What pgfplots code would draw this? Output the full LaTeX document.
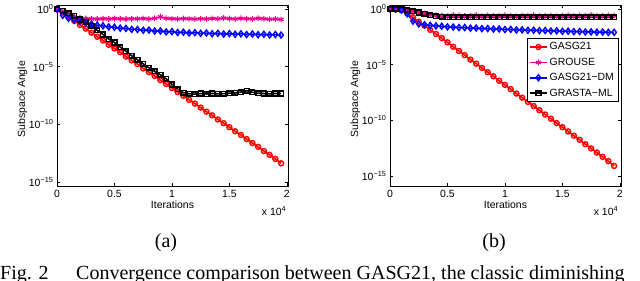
\documentclass[border=0pt]{standalone}
\usepackage{fontspec}
\setmainfont{Liberation Serif}
\newfontfamily\arial{Liberation Sans}
\usepackage{pgfplots}
\pgfplotsset{compat=1.18}
\pgfplotsset{
  matstyle/.style={
    scale only axis, width=231bp, height=181bp,
    xmin=0, xmax=20100,
    ytick={1,1e-5,1e-10,1e-15},
    yticklabels={10\textsuperscript{0},10\textsuperscript{−5},10\textsuperscript{−10},10\textsuperscript{−15}},
    yminorticks=false,
    xtick={0,5000,10000,15000,20000},
    xticklabels={0,0.5,1,1.5,2},
    scaled x ticks=false,
    tick align=inside, major tick length=3bp,
    axis line style={line width=0.6bp},
    every tick/.style={line width=0.6bp, black},
    tick label style={font=\arial\fontsize{10.5}{12}\selectfont},
    label style={font=\arial\fontsize{10.5}{12}\selectfont},
    xticklabel style={anchor=center, yshift=-7.5bp},
    xlabel={Iterations},
    ylabel={Subspace Angle},
    xlabel style={at={(axis description cs:0.5,-0.105)}, anchor=center},
    ylabel style={at={(axis description cs:-0.15,0.48)}, anchor=center},
    clip=false,
  },
  redp/.style={color=red, line width=1.6bp, mark=o, mark size=2.5bp, mark options={line width=1.4bp}},
  magp/.style={color=magenta, line width=1.5bp, mark=asterisk, mark size=2.9bp, mark options={line width=1.1bp}},
  blup/.style={color=blue, line width=1.5bp, mark=diamond, mark size=3bp, mark options={line width=1.4bp}},
  blkp/.style={color=black, line width=1.6bp, mark=square, mark size=2.3bp, mark options={line width=1.6bp}},
}
\begin{document}
\begin{tikzpicture}
% ---------------- (a) ----------------
\begin{axis}[ymode=log, matstyle, at={(57bp,-186bp)}, anchor=south west, ymin=4.47e-16, ymax=2.24]
\addplot[redp] coordinates {
(0,1) (500,4.786e-1) (1000,1.995e-1) (1500,9.550e-2) (2000,4.169e-2) (2500,1.995e-2)
(3000,8.913e-3) (3500,3.981e-3) (4000,1.905e-3) (4500,7.943e-4) (5000,3.802e-4)
(5500,1.778e-4) (6000,7.586e-5) (6500,3.548e-5) (7000,1.660e-5) (7500,7.079e-6)
(8000,3.388e-6) (8500,1.585e-6) (9000,6.761e-7) (9500,3.162e-7) (10000,1.413e-7)
(10500,6.310e-8) (11000,3.020e-8) (11500,1.318e-8) (12000,6.310e-9) (12500,2.818e-9)
(13000,1.259e-9) (13500,6.026e-10) (14000,2.630e-10) (14500,1.259e-10) (15000,5.623e-11)
(15500,2.512e-11) (16000,1.202e-11) (16500,5.248e-12) (17000,2.399e-12) (17500,1.122e-12)
(18000,4.786e-13) (18500,2.239e-13) (19000,1.0e-13) (19500,4.169e-14)};
\addplot[magp] coordinates {
(0,1) (500,4.467e-1) (1000,2.818e-1) (1500,1.995e-1) (2000,1.660e-1) (2500,1.479e-1)
(3000,1.413e-1) (3500,1.349e-1) (4000,1.445e-1) (4500,1.380e-1) (5000,1.479e-1)
(5500,1.413e-1) (6000,1.349e-1) (6500,1.445e-1) (7000,1.413e-1) (7500,1.514e-1)
(8000,1.380e-1) (8500,1.585e-1) (9000,2.089e-1) (9500,1.585e-1) (10000,1.445e-1)
(10500,1.380e-1) (11000,1.479e-1) (11500,1.413e-1) (12000,1.349e-1) (12500,1.445e-1)
(13000,1.380e-1) (13500,1.514e-1) (14000,1.413e-1) (14500,1.660e-1) (15000,1.479e-1)
(15500,1.380e-1) (16000,1.549e-1) (16500,1.445e-1) (17000,1.380e-1) (17500,1.585e-1)
(18000,1.413e-1) (18500,1.318e-1) (19000,1.380e-1) (19500,1.259e-1)};
\addplot[blup] coordinates {
(0,1) (500,2.818e-1) (1000,1.585e-1) (1500,1.072e-1) (2000,8.318e-2) (2500,6.026e-2)
(3000,5.012e-2) (3500,3.981e-2) (4000,3.467e-2) (4500,2.818e-2) (5000,2.630e-2)
(5500,2.188e-2) (6000,2.089e-2) (6500,1.738e-2) (7000,1.698e-2) (7500,1.445e-2)
(8000,1.479e-2) (8500,1.230e-2) (9000,1.259e-2) (9500,1.047e-2) (10000,1.096e-2)
(10500,9.120e-3) (11000,9.772e-3) (11500,8.318e-3) (12000,8.913e-3) (12500,7.762e-3)
(13000,8.318e-3) (13500,7.244e-3) (14000,7.762e-3) (14500,6.761e-3) (15000,7.413e-3)
(15500,6.457e-3) (16000,7.079e-3) (16500,6.166e-3) (17000,6.761e-3) (17500,5.888e-3)
(18000,6.457e-3) (18500,5.623e-3) (19000,6.166e-3) (19500,5.495e-3)};
\addplot[blkp] coordinates {
(0,1) (500,7.079e-1) (1000,4.467e-1) (1500,2.512e-1) (2000,1.259e-1) (2500,7.943e-2)
(3000,3.548e-2) (3500,1.413e-2) (4000,6.310e-3) (4500,2.512e-3) (5000,1.259e-3)
(5500,5.012e-4) (6000,2.239e-4) (6500,8.913e-5) (7000,3.981e-5) (7500,1.778e-5)
(8000,7.943e-6) (8500,3.981e-6) (9000,1.995e-6) (9500,8.913e-7) (10000,2.818e-7)
(10500,1.122e-7) (11000,5.623e-8) (11500,4.467e-8) (12000,4.169e-8) (12500,4.677e-8)
(13000,4.266e-8) (13500,4.786e-8) (14000,4.365e-8) (14500,4.571e-8) (15000,5.012e-8)
(15500,5.248e-8) (16000,6.310e-8) (16500,8.318e-8) (17000,6.026e-8) (17500,5.012e-8)
(18000,4.677e-8) (18500,4.365e-8) (19000,4.786e-8) (19500,4.677e-8)};
\node[font=\arial\fontsize{10.5}{12}\selectfont] at (axis description cs:0.94,-0.138) {x 10\textsuperscript{4}};
\end{axis}
% ---------------- (b) ----------------
\begin{axis}[ymode=log, matstyle, at={(390bp,-186bp)}, anchor=south west, ymin=1.26e-16, ymax=2.24,
  legend style={at={(axis description cs:0.988,0.816)}, anchor=north east,
    font=\arial\fontsize{10.5}{12}\selectfont, draw=black, line width=0.6bp, inner sep=2bp, row sep=2.6bp},
  legend cell align=left]
\addplot[redp] coordinates {
(0,1) (500,9.550e-1) (1000,7.586e-1) (1500,3.981e-1) (2000,1.778e-1) (2500,7.079e-2)
(3000,3.162e-2) (3500,1.318e-2) (4000,5.623e-3) (4500,2.399e-3) (5000,1.0e-3)
(5500,3.981e-4) (6000,1.660e-4) (6500,7.079e-5) (7000,2.818e-5) (7500,1.202e-5)
(8000,5.012e-6) (8500,2.089e-6) (9000,8.913e-7) (9500,3.548e-7) (10000,1.514e-7)
(10500,6.310e-8) (11000,2.512e-8) (11500,1.072e-8) (12000,4.467e-9) (12500,1.905e-9)
(13000,7.943e-10) (13500,3.311e-10) (14000,1.380e-10) (14500,5.623e-11) (15000,2.399e-11)
(15500,1.0e-11) (16000,4.169e-12) (16500,1.778e-12) (17000,7.079e-13) (17500,3.020e-13)
(18000,1.259e-13) (18500,5.248e-14) (19000,2.138e-14) (19500,7.943e-15)};
\addlegendentry{GASG21}
\addplot[magp] coordinates {
(0,1) (500,1) (1000,9.333e-1) (1500,7.943e-1) (2000,6.310e-1) (2500,5.012e-1)
(3000,3.802e-1) (3500,3.020e-1) (4000,2.630e-1) (4500,2.399e-1) (5000,2.188e-1)
(5500,2.630e-1) (6000,2.512e-1) (6500,2.291e-1) (7000,2.399e-1) (7500,2.630e-1)
(8000,2.188e-1) (8500,2.512e-1) (9000,2.399e-1) (9500,2.291e-1) (10000,2.630e-1)
(10500,2.399e-1) (11000,2.188e-1) (11500,2.512e-1) (12000,2.399e-1) (12500,2.630e-1)
(13000,2.291e-1) (13500,2.399e-1) (14000,2.512e-1) (14500,2.188e-1) (15000,2.399e-1)
(15500,2.630e-1) (16000,2.291e-1) (16500,2.512e-1) (17000,2.399e-1) (17500,2.754e-1)
(18000,2.291e-1) (18500,2.399e-1) (19000,2.512e-1) (19500,2.399e-1)};
\addlegendentry{GROUSE}
\addplot[blup] coordinates {
(0,1) (500,9.550e-1) (1000,7.943e-1) (1500,3.548e-1) (2000,7.943e-2) (2500,4.467e-2)
(3000,3.802e-2) (3500,3.311e-2) (4000,2.951e-2) (4500,2.754e-2) (5000,2.399e-2)
(5500,2.344e-2) (6000,2.089e-2) (6500,2.138e-2) (7000,1.862e-2) (7500,1.905e-2)
(8000,1.698e-2) (8500,1.738e-2) (9000,1.549e-2) (9500,1.585e-2) (10000,1.413e-2)
(10500,1.445e-2) (11000,1.288e-2) (11500,1.318e-2) (12000,1.202e-2) (12500,1.230e-2)
(13000,1.122e-2) (13500,1.148e-2) (14000,1.047e-2) (14500,1.072e-2) (15000,9.772e-3)
(15500,1.0e-2) (16000,9.120e-3) (16500,9.333e-3) (17000,8.511e-3) (17500,8.710e-3)
(18000,8.128e-3) (18500,8.318e-3) (19000,7.762e-3) (19500,7.943e-3)};
\addlegendentry{GASG21−DM}
\addplot[blkp] coordinates {
(0,1) (500,1) (1000,9.333e-1) (1500,7.943e-1) (2000,6.310e-1) (2500,4.786e-1)
(3000,3.548e-1) (3500,2.692e-1) (4000,2.188e-1) (4500,1.905e-1) (5000,1.820e-1)
(5500,1.778e-1) (6000,1.738e-1) (6500,1.820e-1) (7000,1.778e-1) (7500,1.738e-1)
(8000,1.778e-1) (8500,1.820e-1) (9000,1.778e-1) (9500,1.738e-1) (10000,1.778e-1)
(10500,1.820e-1) (11000,1.778e-1) (11500,1.738e-1) (12000,1.778e-1) (12500,1.820e-1)
(13000,1.778e-1) (13500,1.738e-1) (14000,1.778e-1) (14500,1.820e-1) (15000,1.778e-1)
(15500,1.738e-1) (16000,1.778e-1) (16500,1.820e-1) (17000,1.778e-1) (17500,1.738e-1)
(18000,1.778e-1) (18500,1.820e-1) (19000,1.778e-1) (19500,1.738e-1)};
\addlegendentry{GRASTA−ML}
\node[font=\arial\fontsize{10.5}{12}\selectfont] at (axis description cs:0.935,-0.138) {x 10\textsuperscript{4}};
\end{axis}
% ---------------- captions ----------------
\begin{scope}[every node/.style={font=\fontsize{20.1}{24}\selectfont, inner sep=0pt}]
\node[anchor=base] at (166bp,-247bp) {(a)};
\node[anchor=base] at (494bp,-247bp) {(b)};
\node[anchor=base west] at (0bp,-279.5bp) {Fig. 2};
\node[anchor=base west] at (76bp,-279.5bp) {Convergence comparison between GASG21, the classic diminishing};
\end{scope}
\pgfresetboundingbox
\path[use as bounding box] (0,0) rectangle (640bp,-281bp);
\end{tikzpicture}
\end{document}
